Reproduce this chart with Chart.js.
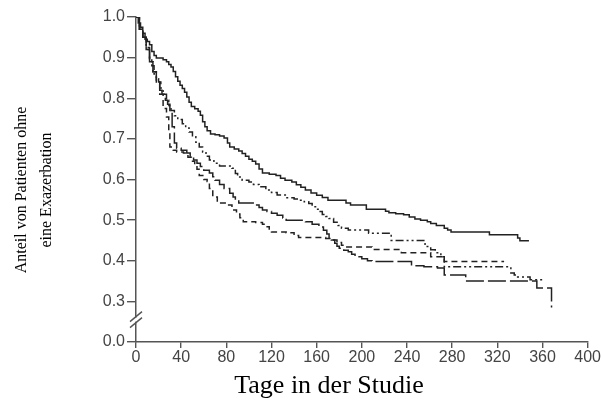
<!DOCTYPE html>
<html>
<head>
<meta charset="utf-8">
<script src="https://cdn.jsdelivr.net/npm/chart.js@4.4.1/dist/chart.umd.min.js"></script>
<style>
    html, body { margin: 0; padding: 0; background: #fff; }
</style>
</head>
<body>
<canvas id="km_chart" width="601" height="404"></canvas>
<script>
// Achsen
const xTicks = [0, 40, 80, 120, 160, 200, 240, 280, 320, 360, 400];
const yTicks = ['0.0', '0.3', '0.4', '0.5', '0.6', '0.7', '0.8', '0.9', '1.0'];

// Kurve 1 (durchgezogen)
const days_1 = [0, 2, 4, 6, 8, 10, 12, 14, 16, 18, 24, 27, 29, 31, 33, 35, 37, 39, 41, 43, 45, 47, 49, 52, 55, 57, 59, 61, 63, 66, 70, 74, 78, 81, 83, 87, 91, 94, 97, 100, 103, 106, 109, 112, 118, 124, 128, 132, 138, 142, 146, 150, 155, 160, 165, 170, 186, 190, 204, 221, 224, 230, 237, 242, 247, 252, 258, 261, 266, 273, 276, 279, 313, 338, 340, 348];
const surv_1 = [1.0, 0.985, 0.975, 0.96, 0.945, 0.94, 0.932, 0.915, 0.905, 0.899, 0.895, 0.89, 0.883, 0.877, 0.866, 0.853, 0.842, 0.832, 0.824, 0.815, 0.803, 0.79, 0.78, 0.774, 0.768, 0.758, 0.742, 0.73, 0.72, 0.712, 0.71, 0.707, 0.702, 0.69, 0.68, 0.675, 0.67, 0.664, 0.657, 0.65, 0.645, 0.638, 0.626, 0.616, 0.613, 0.61, 0.603, 0.598, 0.594, 0.587, 0.581, 0.574, 0.567, 0.561, 0.556, 0.549, 0.542, 0.537, 0.527, 0.522, 0.518, 0.516, 0.513, 0.508, 0.503, 0.5, 0.496, 0.492, 0.487, 0.48, 0.476, 0.471, 0.464, 0.456, 0.449, 0.449];

// Kurve 2 (Strich-Punkt-Punkt)
const days_2 = [0, 3, 6, 9, 12, 14, 16, 18, 20, 22, 24, 27, 29, 31, 34, 37, 41, 44, 47, 50, 53, 56, 59, 62, 65, 69, 74, 85, 88, 90, 94, 100, 104, 109, 115, 120, 125, 133, 140, 144, 149, 153, 156, 159, 162, 165, 168, 171, 175, 179, 182, 188, 206, 226, 256, 261, 265, 270, 273, 332, 335, 338, 349, 362];
const surv_2 = [1.0, 0.97, 0.95, 0.925, 0.9, 0.88, 0.86, 0.848, 0.84, 0.825, 0.81, 0.795, 0.782, 0.77, 0.757, 0.748, 0.737, 0.727, 0.717, 0.705, 0.692, 0.68, 0.668, 0.657, 0.648, 0.64, 0.633, 0.628, 0.615, 0.606, 0.598, 0.594, 0.588, 0.582, 0.574, 0.568, 0.562, 0.555, 0.552, 0.549, 0.545, 0.541, 0.533, 0.527, 0.521, 0.514, 0.509, 0.504, 0.495, 0.487, 0.48, 0.476, 0.468, 0.45, 0.435, 0.427, 0.42, 0.41, 0.385, 0.37, 0.365, 0.36, 0.353, 0.353];

// Kurve 3 (gestrichelt)
const days_3 = [0, 3, 6, 9, 12, 15, 18, 21, 24, 27, 29, 30, 33, 36, 42, 46, 49, 52, 54, 56, 60, 63, 65, 68, 72, 80, 85, 89, 92, 95, 106, 112, 115, 118, 120, 133, 140, 144, 168, 173, 178, 182, 185, 209, 235, 261, 273, 326];
const surv_3 = [1.0, 0.97, 0.95, 0.92, 0.89, 0.865, 0.84, 0.81, 0.775, 0.754, 0.72, 0.68, 0.672, 0.668, 0.665, 0.655, 0.645, 0.636, 0.625, 0.61, 0.6, 0.595, 0.578, 0.557, 0.542, 0.537, 0.525, 0.515, 0.506, 0.496, 0.494, 0.49, 0.484, 0.476, 0.471, 0.469, 0.462, 0.457, 0.455, 0.451, 0.445, 0.438, 0.434, 0.428, 0.42, 0.41, 0.398, 0.398];

// Kurve 4 (lang gestrichelt)
const days_4 = [0, 3, 6, 9, 12, 15, 18, 21, 23, 26, 28, 30, 32, 34, 36, 40, 45, 48, 51, 54, 57, 60, 65, 68, 70, 74, 78, 83, 86, 88, 91, 106, 109, 112, 116, 120, 125, 130, 133, 150, 156, 162, 166, 169, 171, 173, 176, 178, 180, 184, 188, 191, 194, 200, 205, 209, 244, 255, 267, 273, 292, 355, 368];
const surv_4 = [1.0, 0.97, 0.95, 0.92, 0.89, 0.865, 0.84, 0.82, 0.81, 0.795, 0.785, 0.77, 0.73, 0.69, 0.677, 0.672, 0.665, 0.656, 0.648, 0.64, 0.632, 0.623, 0.616, 0.607, 0.598, 0.588, 0.578, 0.566, 0.557, 0.55, 0.542, 0.537, 0.531, 0.525, 0.521, 0.517, 0.512, 0.505, 0.5, 0.496, 0.49, 0.483, 0.475, 0.466, 0.458, 0.451, 0.443, 0.436, 0.431, 0.426, 0.422, 0.416, 0.41, 0.405, 0.4, 0.398, 0.388, 0.385, 0.382, 0.365, 0.35, 0.333, 0.285];

const toPoints = (d, s) => d.map((x, i) => ({x: x, y: s[i]}));

const curve = (data, dash) => ({
    data: data,
    borderColor: '#222',
    borderWidth: 1.5,
    borderDash: dash,
    stepped: true,
    pointRadius: 0,
    fill: false
});

// Achsenbruch und Achsentitel
const extras = {
    id: 'extras',
    afterDraw(chart) {
        const ctx = chart.ctx;
        const x0 = chart.scales.x.left;
        const yb = chart.scales.y.getPixelForValue(0.255);
        ctx.save();
        ctx.fillStyle = '#fff';
        ctx.fillRect(x0 - 2, yb - 2, 4, 4);
        ctx.strokeStyle = '#555';
        ctx.lineWidth = 1.4;
        [-3, 3].forEach(d => {
            ctx.beginPath();
            ctx.moveTo(x0 - 6, yb + d + 5);
            ctx.lineTo(x0 + 6, yb + d - 5);
            ctx.stroke();
        });

        ctx.fillStyle = '#000';
        ctx.font = '26px "Liberation Serif"';
        ctx.textAlign = 'center';
        ctx.textBaseline = 'alphabetic';
        ctx.fillText('Tage in der Studie', 329, 393);

        ctx.font = '16px "Liberation Serif"';
        ctx.textBaseline = 'middle';
        ctx.translate(22, 190);
        ctx.rotate(-Math.PI / 2);
        ctx.fillText('Anteil von Patienten ohne', 0, 0);
        ctx.fillText('eine Exazerbation', 0, 25);
        ctx.restore();
    }
};

new Chart(
    document.getElementById('km_chart'),
    {
        type: 'line',
        data: {
            datasets: [
                curve(toPoints(days_1, surv_1), []),
                curve(toPoints(days_2, surv_2), [8, 3, 2, 3, 2, 3]),
                curve(toPoints(days_3, surv_3), [6, 4]),
                curve(toPoints(days_4, surv_4), [18, 4])
            ]
        },
        options: {
            responsive: false,
            animation: false,
            layout: {padding: {left: 0, right: 10, top: 17, bottom: 0}},
            plugins: {legend: {display: false}, tooltip: {enabled: false}},
            scales: {
                x: {
                    type: 'linear',
                    min: xTicks[0],
                    max: xTicks[xTicks.length - 1],
                    afterBuildTicks: s => { s.ticks = xTicks.map(v => ({value: v})); },
                    afterFit: s => { s.height = 62; },
                    grid: {drawOnChartArea: false, drawTicks: true, tickLength: 6, color: '#555', lineWidth: 1.4},
                    border: {display: true, color: '#555', width: 1.5},
                    ticks: {color: '#444', font: {family: '"Liberation Sans"', size: 16}, padding: 0, maxRotation: 0}
                },
                y: {
                    type: 'linear',
                    min: 0.2,
                    max: 1.0,
                    afterBuildTicks: s => { s.ticks = yTicks.map((t, i) => ({value: 0.2 + i * 0.1})); },
                    afterFit: s => { s.width = 136; },
                    grid: {drawOnChartArea: false, drawTicks: true, tickLength: 9, color: '#555', lineWidth: 1.4},
                    border: {display: true, color: '#555', width: 1.5},
                    ticks: {
                        color: '#444',
                        font: {family: '"Liberation Sans"', size: 16},
                        padding: 2,
                        callback: (v, i) => yTicks[i]
                    }
                }
            }
        },
        plugins: [extras]
    }
);
</script>
</body>
</html>
